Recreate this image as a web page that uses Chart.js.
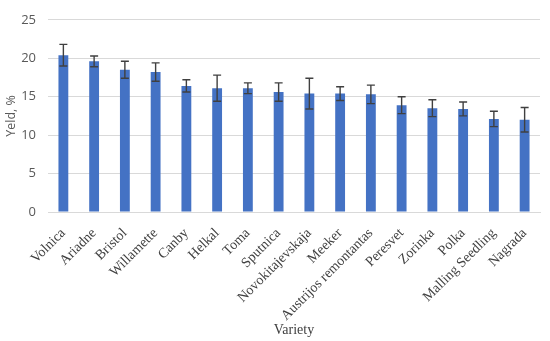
<!DOCTYPE html>
<html>
<head>
<meta charset="utf-8">
<script src="https://cdn.jsdelivr.net/npm/chart.js@4"></script>
<style>
  html, body { margin: 0; padding: 0; background: #fff; }
  #wrap { width: 550px; height: 341px; }
</style>
</head>
<body>
<div id="wrap"><canvas id="chart"></canvas></div>
<script>
const varieties = ['Volnica', 'Ariadne', 'Bristol', 'Willamette', 'Canby', 'Helkal', 'Toma', 'Sputnica',
    'Novokitajevskaja', 'Meeker', 'Austrijos remontantas', 'Peresvet', 'Zorinka', 'Polka', 'Malling Seedling', 'Nagrada'];
const yieldValues = [20.4, 19.6, 18.5, 18.2, 16.4, 16.1, 16.1, 15.6, 15.4, 15.4, 15.3, 13.9, 13.5, 13.4, 12.1, 12.0];
const yieldErrors = [1.4, 0.7, 1.1, 1.2, 0.8, 1.7, 0.7, 1.2, 2.0, 0.9, 1.2, 1.1, 1.1, 0.9, 1.0, 1.6];
const yTicks = [0, 5, 10, 15, 20, 25];

// draws the +/- error whiskers on top of each bar
const errorBars = {
    id: 'errorBars',
    afterDatasetsDraw(chart) {
        const ctx = chart.ctx;
        const y = chart.scales.y;
        const meta = chart.getDatasetMeta(0);
        ctx.save();
        ctx.strokeStyle = '#404040';
        ctx.lineWidth = 1.4;
        meta.data.forEach((bar, i) => {
            const v = yieldValues[i], e = yieldErrors[i];
            const top = y.getPixelForValue(v + e);
            const bot = y.getPixelForValue(v - e);
            ctx.beginPath();
            ctx.moveTo(bar.x, top); ctx.lineTo(bar.x, bot);
            ctx.moveTo(bar.x - 4, top); ctx.lineTo(bar.x + 4, top);
            ctx.moveTo(bar.x - 4, bot); ctx.lineTo(bar.x + 4, bot);
            ctx.stroke();
        });
        ctx.restore();
    }
};

new Chart(document.getElementById('chart'), {
    type: 'bar',
    data: {
        labels: varieties,
        datasets: [{
            data: yieldValues,
            backgroundColor: '#4472c4',
            barPercentage: 0.32,
            categoryPercentage: 1
        }]
    },
    options: {
        responsive: true,
        maintainAspectRatio: false,
        animation: false,
        layout: { padding: { top: 9, right: 10, left: 0, bottom: 0 } },
        plugins: { legend: { display: false }, tooltip: { enabled: false } },
        scales: {
            x: {
                grid: { display: false },
                border: { color: '#d9d9d9' },
                ticks: {
                    minRotation: 45, maxRotation: 45,
                    color: '#404040',
                    font: { family: 'Liberation Serif', size: 14 },
                    padding: 5
                },
                title: {
                    display: true, text: 'Variety', color: '#404040',
                    font: { family: 'Liberation Serif', size: 14 },
                    padding: { top: 0, bottom: 2 }
                },
                afterFit(scale) { scale.height = 129; }
            },
            y: {
                min: 0, max: 25,
                afterBuildTicks(scale) { scale.ticks = yTicks.map(v => ({ value: v })); },
                grid: { color: '#d9d9d9', drawTicks: false },
                border: { display: false },
                ticks: {
                    color: '#595959',
                    font: { family: 'Open Sans', size: 13 },
                    padding: 12
                },
                title: {
                    display: true, text: 'Yeld, %', color: '#595959',
                    font: { family: 'Open Sans', size: 12.5 },
                    padding: { top: 4, bottom: 0 }
                },
                afterFit(scale) { scale.width = 48; }
            }
        }
    },
    plugins: [errorBars]
});
</script>
</body>
</html>
